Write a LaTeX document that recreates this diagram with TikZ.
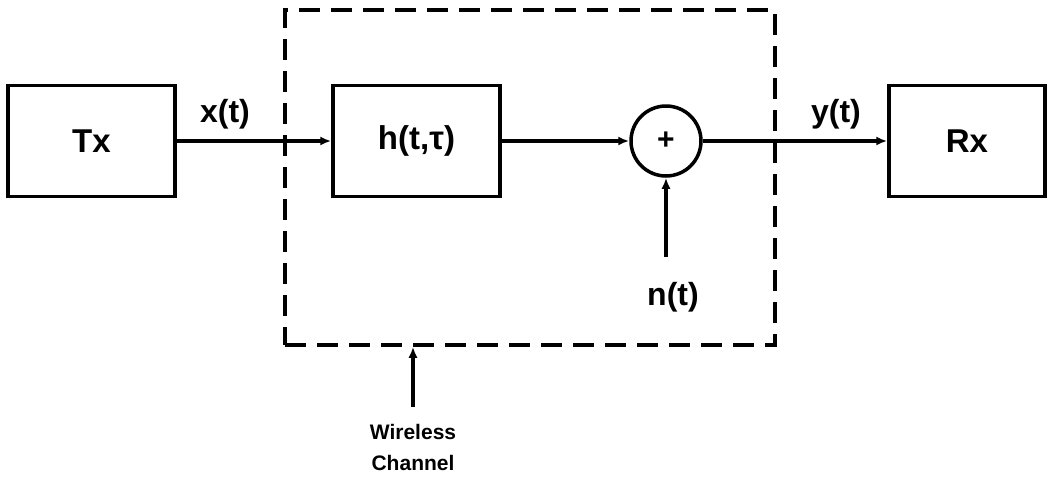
\documentclass[tikz,border=0pt]{standalone}
\usepackage{fontspec}
\setmainfont{Liberation Sans}
\usetikzlibrary{arrows.meta,calc}
\begin{document}
\begin{tikzpicture}[x=1pt,y=-1pt,
  blk/.style={draw,line width=3.5pt,inner sep=0pt,minimum width=167pt,minimum height=111pt,font=\fontsize{33}{35}\selectfont\bfseries},
  sumnode/.style={draw,circle,line width=3.5pt,minimum size=70pt,inner sep=0pt,font=\fontsize{30}{32}\selectfont\bfseries},
  lbl/.style={font=\fontsize{32}{34}\selectfont\bfseries,inner sep=0pt},
  sig/.style={line width=3.2pt,-{Latex[length=11pt,width=9pt]}},
  chanbox/.style={draw,line width=3.5pt,dash pattern=on 21pt off 11pt,inner sep=0pt,minimum width=490pt,minimum height=335pt}]
\useasboundingbox (0,0) rectangle (1050,480);
\node[chanbox] (chan) at (530,177.5) {};
\node[blk] (tx) at (91.5,141) {Tx};
\node[blk] (h) at (416.5,141) {h(t,τ)};
\node[sumnode] (sum) at (666,141) {+};
\node[blk,minimum width=156pt] (rx) at (967,141) {Rx};
\node[lbl] (xl) at (225,114) {x(t)};
\node[lbl] (yl) at (836,114) {y(t)};
\node[lbl] (nl) at (673,297) {n(t)};
\coordinate (nstart) at (666,257);
\node[font=\fontsize{21}{31}\selectfont\bfseries,align=center,inner sep=0pt] (wl) at (413,447) {Wireless\\Channel};
\coordinate (wstart) at (413,407);
\draw[sig] (tx.east) -- (h.west);
\draw[sig] (h.east) -- (sum.west);
\draw[sig] (sum.east) -- (rx.west);
\draw[sig] (nstart) -- (sum.south);
\draw[sig] (wstart) -- (wstart |- chan.south);
\end{tikzpicture}
\end{document}
